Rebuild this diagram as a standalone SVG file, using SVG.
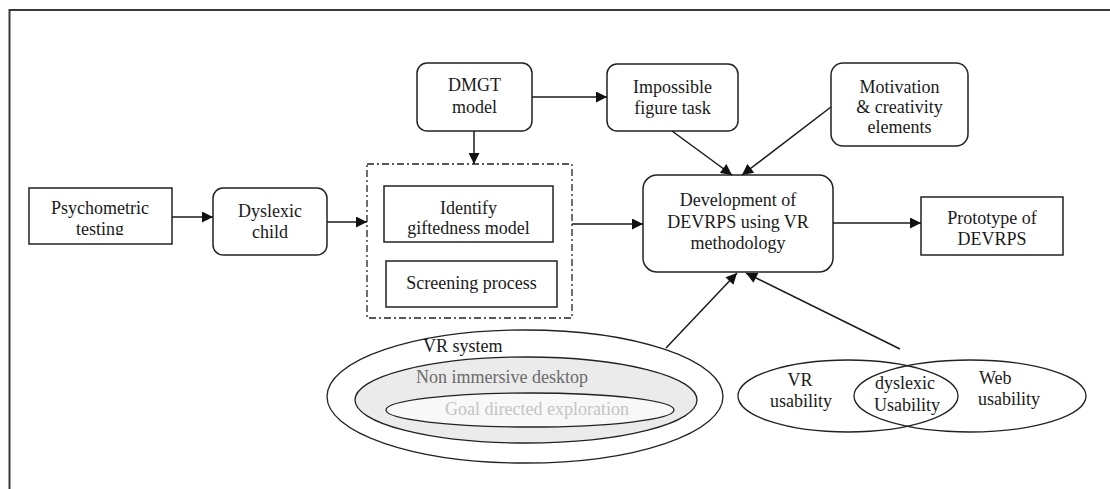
<svg xmlns="http://www.w3.org/2000/svg" width="1110" height="489" viewBox="0 0 1110 489">
  <style>
    text { font-family: 'Liberation Serif', 'DejaVu Serif', 'Times New Roman', serif; }
    .box { fill: #ffffff; stroke: #222222; stroke-width: 1.5; }
    .lbl { font-size: 18px; fill: #1a1a1a; text-anchor: middle; }
    .edge { fill: none; stroke: #1a1a1a; stroke-width: 1.5; marker-end: url(#arrow); }
    .ring { stroke: #222222; stroke-width: 1.3; }
    .group { fill: none; stroke: #222222; stroke-width: 1.3; stroke-dasharray: 7 3 2 3; }
  </style>
  <defs>
    <marker id="arrow" viewBox="0 0 10 10" refX="10" refY="5" markerWidth="12" markerHeight="11" markerUnits="userSpaceOnUse" orient="auto">
      <path d="M0,0 L10,5 L0,10 Z" fill="#111111"/>
    </marker>
    <clipPath id="psychClip">
      <rect x="29" y="188" width="143" height="47"/>
    </clipPath>
  </defs>

  <rect width="1110" height="489" fill="#ffffff"/>

  <!-- page frame -->
  <path d="M9.5,489 V10 H1110" fill="none" stroke="#3a3a3a" stroke-width="2"/>

  <g font-family="Liberation Serif, serif">
  <g id="psychometric">
    <rect class="box" x="29" y="188" width="143" height="56"/>
    <g clip-path="url(#psychClip)">
      <text class="lbl" x="100" y="214">Psychometric</text>
      <text class="lbl" x="100" y="235">testing</text>
    </g>
  </g>

  <g id="dyslexic-child">
    <rect class="box" x="213" y="188" width="114" height="67" rx="10"/>
    <text class="lbl" x="270" y="217">Dyslexic</text>
    <text class="lbl" x="270" y="238">child</text>
  </g>

  <g id="dmgt">
    <rect class="box" x="417" y="63" width="115" height="68" rx="10"/>
    <text class="lbl" x="474.5" y="91">DMGT</text>
    <text class="lbl" x="474.5" y="113">model</text>
  </g>

  <g id="giftedness-group">
    <rect class="group" x="367" y="164" width="205" height="154"/>
    <g id="identify">
      <rect class="box" x="384" y="186" width="169" height="56"/>
      <text class="lbl" x="468.5" y="214">Identify</text>
      <text class="lbl" x="468.5" y="234">giftedness model</text>
    </g>
    <g id="screening">
      <rect class="box" x="386" y="261" width="171" height="46"/>
      <text class="lbl" x="471.5" y="289">Screening process</text>
    </g>
  </g>

  <g id="impossible-figure">
    <rect class="box" x="607" y="64" width="131" height="67" rx="10"/>
    <text class="lbl" x="672.5" y="93">Impossible</text>
    <text class="lbl" x="672.5" y="114">figure task</text>
  </g>

  <g id="motivation">
    <rect class="box" x="831" y="63" width="137" height="83" rx="12"/>
    <text class="lbl" x="899.5" y="93">Motivation</text>
    <text class="lbl" x="899.5" y="113">&amp; creativity</text>
    <text class="lbl" x="899.5" y="133">elements</text>
  </g>

  <g id="development">
    <rect class="box" x="643" y="175" width="190" height="97" rx="14"/>
    <text class="lbl" x="738" y="206">Development of</text>
    <text class="lbl" x="738" y="228">DEVRPS using VR</text>
    <text class="lbl" x="738" y="249">methodology</text>
  </g>

  <g id="prototype">
    <rect class="box" x="921" y="197" width="142" height="58"/>
    <text class="lbl" x="992" y="224">Prototype of</text>
    <text class="lbl" x="992" y="245">DEVRPS</text>
  </g>

  <g id="vr-system">
    <ellipse class="ring" cx="525" cy="396.5" rx="198" ry="66.5" fill="#ffffff"/>
    <ellipse class="ring" cx="526" cy="400" rx="171" ry="43" fill="#ebebeb"/>
    <ellipse class="ring" cx="530" cy="410" rx="144" ry="17" fill="#f8f8f8"/>
    <text class="lbl" x="423" y="352" style="text-anchor:start">VR system</text>
    <text class="lbl" x="416" y="383" style="text-anchor:start;fill:#6a6a6a">Non immersive desktop</text>
    <text class="lbl" x="445" y="415" style="text-anchor:start;fill:#c4c4c4">Goal directed exploration</text>
  </g>

  <g id="usability">
    <ellipse class="ring" cx="848" cy="396" rx="110" ry="36" fill="none"/>
    <ellipse class="ring" cx="970" cy="396" rx="116" ry="36" fill="none"/>
    <text class="lbl" x="800" y="386">VR</text>
    <text class="lbl" x="801" y="407">usability</text>
    <text class="lbl" x="905" y="389">dyslexic</text>
    <text class="lbl" x="907" y="411">Usability</text>
    <text class="lbl" x="979" y="384" style="text-anchor:start">Web</text>
    <text class="lbl" x="978" y="405" style="text-anchor:start">usability</text>
  </g>
  </g>

  <g id="connectors">
    <line class="edge" x1="172" y1="217" x2="213" y2="217"/>
    <line class="edge" x1="327" y1="222" x2="367" y2="222"/>
    <line class="edge" x1="474" y1="131" x2="474" y2="164"/>
    <line class="edge" x1="532" y1="97" x2="607" y2="97"/>
    <line class="edge" x1="572" y1="224" x2="643" y2="224"/>
    <line class="edge" x1="833" y1="223" x2="921" y2="223"/>
    <line class="edge" x1="672" y1="131" x2="732" y2="175"/>
    <line class="edge" x1="831" y1="107" x2="742" y2="175"/>
    <line class="edge" x1="666" y1="348" x2="737" y2="273"/>
    <line class="edge" x1="900" y1="349" x2="746" y2="273"/>
  </g>
</svg>
